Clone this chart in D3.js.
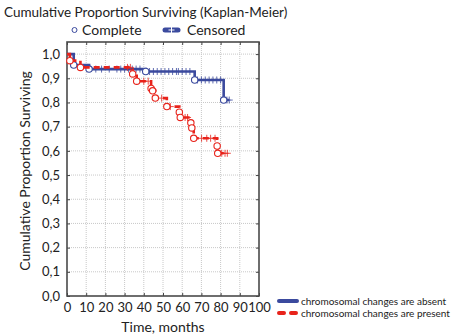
<!DOCTYPE html>
<html>
<head>
<meta charset="utf-8">
<script src="https://cdn.jsdelivr.net/npm/d3@7"></script>
<style>
  body { margin: 0; background: #fff; }
  text { font-family: Lato, "Open Sans", sans-serif; fill: #222; }
</style>
</head>
<body>
<svg id="km" width="459" height="336"></svg>
<script>
// Kaplan-Meier curves, two groups
const timeTicks = [0, 10, 20, 30, 40, 50, 60, 70, 80, 90, 100];
const survTicks = [0, 0.1, 0.2, 0.3, 0.4, 0.5, 0.6, 0.7, 0.8, 0.9, 1.0];

// events: [time, survival after the event]
const absentEvents = [[3.5, 0.955], [11.5, 0.938], [41, 0.928], [66.5, 0.893], [81.6, 0.81]];
const absentCensored = [15, 18, 22, 26, 28, 30, 32, 34, 36, 38, 43, 45, 47, 49, 51, 53, 55, 57, 58, 60, 62, 64,
                        68, 70, 72, 74, 76, 78, 80, 83.3, 84.5];

const presentEvents = [[1.5, 0.973], [7, 0.945], [34.2, 0.918], [36.3, 0.888], [43.8, 0.858], [44.6, 0.848],
                       [46, 0.818], [52, 0.783], [58.5, 0.76], [59, 0.738], [64.5, 0.716], [65, 0.695],
                       [66, 0.652], [78.2, 0.62], [78.5, 0.59]];
const presentCensored = [31.5, 33, 40, 42.3, 49.3, 53.8, 61.5, 62.8, 70.1, 72.8, 74.8, 77.1, 80.6, 82.3, 83.5];

const groupNames = ["chromosomal changes are absent", "chromosomal changes are present"];
const groupColors = ["#3b4a9e", "#e8231b"];

const svg = d3.select("#km");
const margin = {left: 67, top: 42};
const plotW = 192, plotH = 254;

const x = d3.scaleLinear().domain([0, 100]).range([margin.left, margin.left + plotW]);
const y = d3.scaleLinear().domain([0, 1.05]).range([margin.top + plotH, margin.top]);

// grid
const grid = svg.append("g").attr("stroke", "#c8c8c8").attr("stroke-dasharray", "1,1").attr("stroke-width", 1);
grid.selectAll(".gx").data(timeTicks.slice(1, -1)).join("line")
  .attr("x1", d => x(d)).attr("x2", d => x(d)).attr("y1", margin.top).attr("y2", margin.top + plotH);
grid.selectAll(".gy").data(survTicks.slice(1)).join("line")
  .attr("y1", d => y(d)).attr("y2", d => y(d)).attr("x1", margin.left).attr("x2", margin.left + plotW);

// axes with inner ticks
const fmt = d => d3.format(".1f")(d).replace(".", ",");
svg.append("g").attr("transform", `translate(0,${margin.top + plotH})`)
  .call(d3.axisBottom(x).tickValues(timeTicks).tickSize(-3).tickPadding(7));
svg.append("g").attr("transform", `translate(${margin.left},0)`)
  .call(d3.axisLeft(y).tickValues(survTicks).tickFormat(fmt).tickSize(-3).tickPadding(7));
svg.append("g").attr("transform", `translate(0,${margin.top})`)
  .call(d3.axisTop(x).tickValues(timeTicks).tickSize(-3).tickFormat(""));
svg.append("g").attr("transform", `translate(${margin.left + plotW},0)`)
  .call(d3.axisRight(y).tickValues(survTicks).tickSize(-3).tickFormat(""));
svg.selectAll(".domain").remove();
svg.selectAll(".tick line").attr("stroke", "#444");
svg.selectAll(".tick text").style("font-size", "13px").attr("fill", "#222");

svg.append("rect").attr("x", margin.left).attr("y", margin.top).attr("width", plotW).attr("height", plotH)
  .attr("fill", "none").attr("stroke", "#4a4a4a").attr("stroke-width", 1.6);

// step function helpers
function survAt(events, t) {
  let s = 1;
  for (const [et, es] of events) if (et <= t) s = es;
  return s;
}
function stepPoints(events, censored) {
  const pts = [[0, 1], ...events];
  const end = d3.max(censored.concat(events.map(e => e[0])));
  pts.push([end, survAt(events, end)]);
  return pts;
}
const line = d3.line().x(d => x(d[0])).y(d => y(d[1])).curve(d3.curveStepAfter);

const groups = [
  {events: absentEvents, censored: absentCensored, color: groupColors[0], dash: null},
  {events: presentEvents, censored: presentCensored, color: groupColors[1], dash: "6,4"}
];

groups.forEach(g => {
  const layer = svg.append("g");
  layer.append("path").attr("d", line(stepPoints(g.events, g.censored)))
    .attr("fill", "none").attr("stroke", g.color).attr("stroke-width", 2.6)
    .attr("stroke-dasharray", g.dash);
  // censored marks
  layer.selectAll(".cens").data(g.censored).join("path")
    .attr("d", t => {
      const cx = x(t), cy = y(survAt(g.events, t));
      return `M${cx - 3.5},${cy}H${cx + 3.5}M${cx},${cy - 3.5}V${cy + 3.5}`;
    })
    .attr("stroke", g.color).attr("stroke-width", 1).attr("opacity", 0.8);
  // complete marks
  layer.selectAll(".evt").data(g.events).join("circle")
    .attr("cx", d => x(d[0])).attr("cy", d => y(d[1])).attr("r", 3.2)
    .attr("fill", "#fff").attr("stroke", g.color).attr("stroke-width", 1.1);
});

// titles
svg.append("text").attr("x", 4).attr("y", 17).style("font-size", "13.5px")
  .text("Cumulative Proportion Surviving (Kaplan-Meier)");
svg.append("text").attr("x", 163).attr("y", 332).attr("text-anchor", "middle").style("font-size", "14px")
  .text("Time, months");
svg.append("text").attr("transform", "translate(30,171) rotate(-90)").attr("text-anchor", "middle")
  .style("font-size", "14px").text("Cumulative Proportion Surviving");

// top legend
const topLeg = svg.append("g");
topLeg.append("circle").attr("cx", 74.5).attr("cy", 30).attr("r", 2.5)
  .attr("fill", "#fff").attr("stroke", groupColors[0]).attr("stroke-width", 1);
topLeg.append("text").attr("x", 82).attr("y", 35).style("font-size", "14px").text("Complete");
topLeg.append("line").attr("x1", 165).attr("x2", 178).attr("y1", 30).attr("y2", 30)
  .attr("stroke", groupColors[0]).attr("stroke-width", 5).attr("stroke-linecap", "round");
topLeg.append("path").attr("d", "M168.5,30H174.5M171.5,27V33").attr("stroke", "#fff").attr("stroke-width", 1);
topLeg.append("text").attr("x", 187).attr("y", 35).style("font-size", "14px").text("Censored");

// bottom legend
const leg = svg.append("g").selectAll("g").data(groups).join("g")
  .attr("transform", (d, i) => `translate(279,${301 + i * 12})`);
leg.append("line").attr("x1", 0).attr("x2", 18)
  .attr("stroke", d => d.color).attr("stroke-width", 4).attr("stroke-linecap", "round")
  .attr("stroke-dasharray", d => d.dash ? "5,7" : null);
leg.append("text").attr("x", 22).attr("y", 3.5).style("font-size", "10px")
  .text((d, i) => groupNames[i]);
</script>
</body>
</html>
